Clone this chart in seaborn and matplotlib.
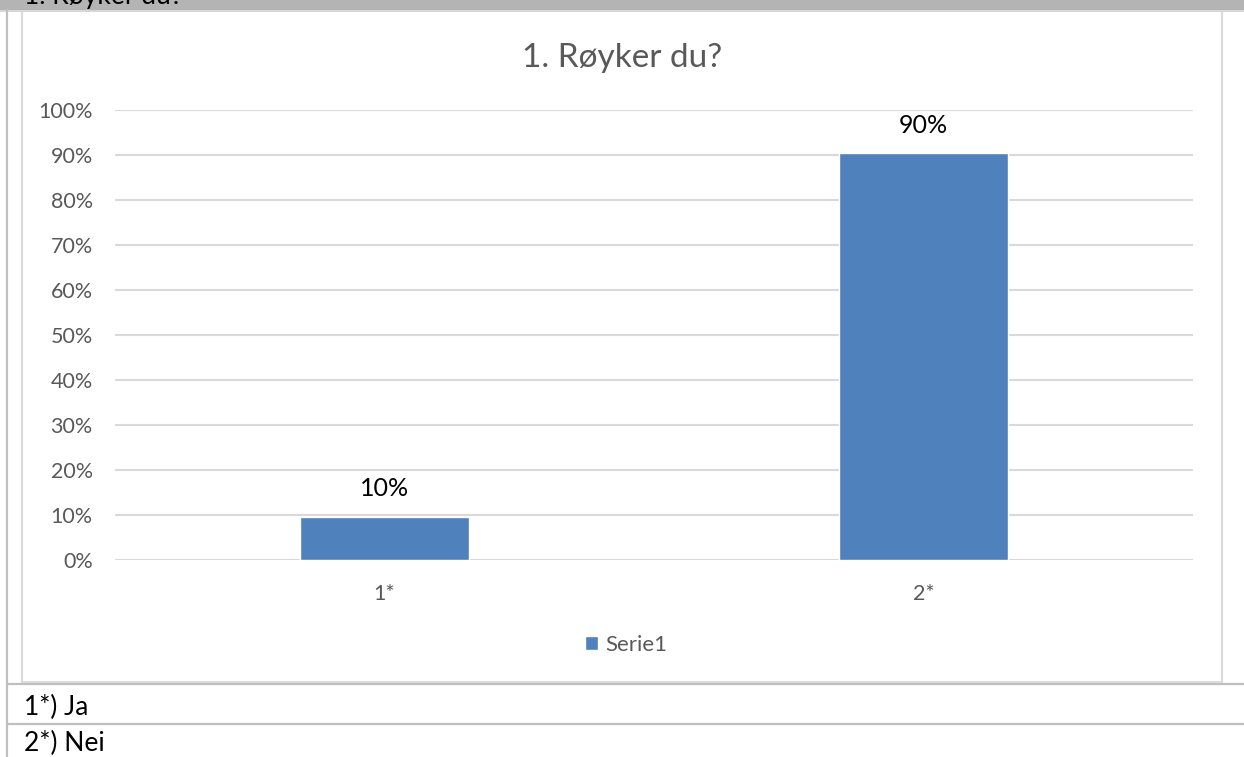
import matplotlib
matplotlib.use("Agg")
import matplotlib.pyplot as plt
from matplotlib.patches import Rectangle
from matplotlib.lines import Line2D
from matplotlib.ticker import PercentFormatter
import seaborn as sns
import pandas as pd
import numpy as np

#%% DATA
categories = ["1*", "2*"]
shares = [0.096, 0.904]
series_name = "Serie1"
chart_title = "1. Røyker du?"
footnotes = ["1*) Ja", "2*) Nei"]

#%% STYLE
sns.set_theme(style="white")
plt.rcParams['font.family'] = ['Lato', 'DejaVu Sans']

W, H = 1244, 757
BLUE = "#4f81bd"
GRID = "#d9d9d9"
TXT = "#595959"


def fx(px):
    return px / W


def fy(py):
    return 1 - py / H


fig = plt.figure(figsize=(W / 100, H / 100), dpi=100)
fig.patch.set_facecolor("white")

#%% PAGE / TABLE DECORATION
fig.add_artist(Rectangle((0, fy(10)), 1, 10 / H, transform=fig.transFigure,
                         facecolor="#b4b4b4", edgecolor="none"))
# header row of the table, cut off at the top edge as in the original page
fig.text(fx(24), fy(4), chart_title, fontsize=19, color="black", va="baseline")
fig.add_artist(Line2D([0, 1], [fy(10.5), fy(10.5)], transform=fig.transFigure, color="#d0d0d0", lw=1.2))
fig.add_artist(Line2D([fx(7.5), fx(7.5)], [0, fy(10)], transform=fig.transFigure, color="#c0c0c0", lw=1.6))
fig.add_artist(Line2D([fx(21.5), fx(21.5)], [fy(682), fy(11)], transform=fig.transFigure, color=GRID, lw=1.5))
fig.add_artist(Line2D([fx(1222), fx(1222)], [fy(682), fy(11)], transform=fig.transFigure, color=GRID, lw=1.5))
fig.add_artist(Line2D([fx(21.5), fx(1222)], [fy(681.5), fy(681.5)], transform=fig.transFigure, color=GRID, lw=1.2))
fig.add_artist(Line2D([fx(8), 1], [fy(683.5), fy(683.5)], transform=fig.transFigure, color="#bfbfbf", lw=1.6))
fig.add_artist(Line2D([fx(8), 1], [fy(724), fy(724)], transform=fig.transFigure, color="#bfbfbf", lw=1.6))
fig.text(fx(24), fy(715), footnotes[0], fontsize=19, color="black", va="baseline")
fig.text(fx(24), fy(751), footnotes[1], fontsize=19, color="black", va="baseline")

#%% CHART
ax = fig.add_axes([fx(115), fy(560), fx(1193 - 115), (560 - 110) / H])
df = pd.DataFrame({"kategori": categories, "andel": shares, "serie": series_name})
sns.barplot(data=df, x="kategori", y="andel", hue="serie", palette=[BLUE],
            width=0.313, saturation=1, ax=ax, legend=True)

ax.set_xlim(-0.5, len(categories) - 0.5)
ax.set_ylim(0, 1)
ax.set_yticks(np.linspace(0, 1, 11))
ax.yaxis.set_major_formatter(PercentFormatter(1.0, decimals=0))
ax.yaxis.grid(True, color=GRID, lw=1.5)
ax.set_axisbelow(True)
for s in ax.spines.values():
    s.set_visible(False)
ax.tick_params(axis="both", length=0, labelsize=15.5, labelcolor=TXT)
ax.tick_params(axis="y", pad=16)
ax.tick_params(axis="x", pad=17)
ax.set_xlabel("")
ax.set_ylabel("")

for c in ax.containers:
    ax.bar_label(c, labels=[f"{v:.0%}" for v in shares], padding=12, fontsize=18, color="black")

fig.text(fx(622), fy(58), chart_title, fontsize=24, color=TXT, ha="center", va="center")

handles, labels = ax.get_legend_handles_labels()
ax.get_legend().remove()
fig.legend(handles, labels, loc="center", bbox_to_anchor=(fx(626), fy(645)), frameon=False,
           fontsize=16, labelcolor=TXT, handlelength=0.6, handleheight=0.6, handletextpad=0.3)

fig.savefig("out.png", dpi=100)
